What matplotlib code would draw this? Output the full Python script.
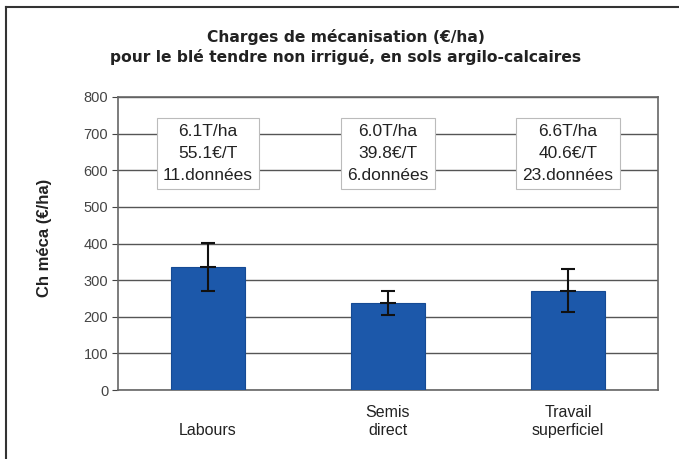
import matplotlib
matplotlib.use("Agg")
import matplotlib.pyplot as plt
from matplotlib.lines import Line2D
import numpy as np

categories = ["Labours", "Semis\ndirect", "Travail\nsuperficiel"]
charges = [336, 238, 270]
err_low = [65, 33, 57]
err_high = [65, 33, 60]
box_texts = ["6.1T/ha\n55.1€/T\n11.données",
             "6.0T/ha\n39.8€/T\n6.données",
             "6.6T/ha\n40.6€/T\n23.données"]
yticks = [0, 100, 200, 300, 400, 500, 600, 700, 800]

plt.rcParams['font.family'] = ['Liberation Sans', 'DejaVu Sans']

fig = plt.figure(figsize=(6.79, 4.59), dpi=100)
ax = fig.add_axes([118/679, 1-390/459, 540/679, 293/459])

x = np.arange(len(categories))
ax.bar(x, charges, width=0.41, color='#1c58aa', edgecolor='#154a94', linewidth=0.8, zorder=3)
ax.errorbar(x, charges, yerr=[err_low, err_high], fmt='_', color='#111111',
            markersize=12, mew=1.5, elinewidth=1.5, capsize=5, capthick=1.2, zorder=4)

for xi, t in zip(x, box_texts):
    ax.text(xi, 646, t, ha='center', va='center', fontsize=12.5, color='#222222',
            linespacing=1.6, zorder=5,
            bbox=dict(boxstyle='square,pad=0.35', fc='white', ec='#bbbbbb', lw=0.8))

ax.set_xlim(-0.5, 2.5)
ax.set_ylim(0, 800)
ax.set_yticks(yticks)
ax.tick_params(axis='y', labelsize=10.5, colors='#444444', length=4, width=0.8, pad=3)
ax.set_xticks(x)
ax.set_xticklabels(["\n" + c if "\n" not in c else c for c in categories], fontsize=11.5, color='#222222')
ax.tick_params(axis='x', length=0, pad=11)
ax.yaxis.grid(True, color='#555555', linewidth=1.0, zorder=0)
ax.set_axisbelow(True)
for s in ax.spines.values():
    s.set_color('#666666')
    s.set_linewidth(1.2)

fig.text(346/679, 1-47/459, "Charges de mécanisation (€/ha)\npour le blé tendre non irrigué, en sols argilo-calcaires",
         ha='center', va='center', fontsize=11.2, fontweight='bold', family=['DejaVu Sans'],
         color='#222222', linespacing=1.25)
fig.text(45/679, 1-238/459, "Ch méca (€/ha)", rotation=90, ha='center', va='center',
         fontsize=12, fontweight='bold', color='#222222')

# outer frame (only left and top edges visible)
fig.add_artist(Line2D([6/679, 6/679], [0, 1-7/459], transform=fig.transFigure, color='#333333', lw=1.5))
fig.add_artist(Line2D([6/679, 1], [1-7/459, 1-7/459], transform=fig.transFigure, color='#333333', lw=1.5))

fig.savefig("out.png", dpi=100)
